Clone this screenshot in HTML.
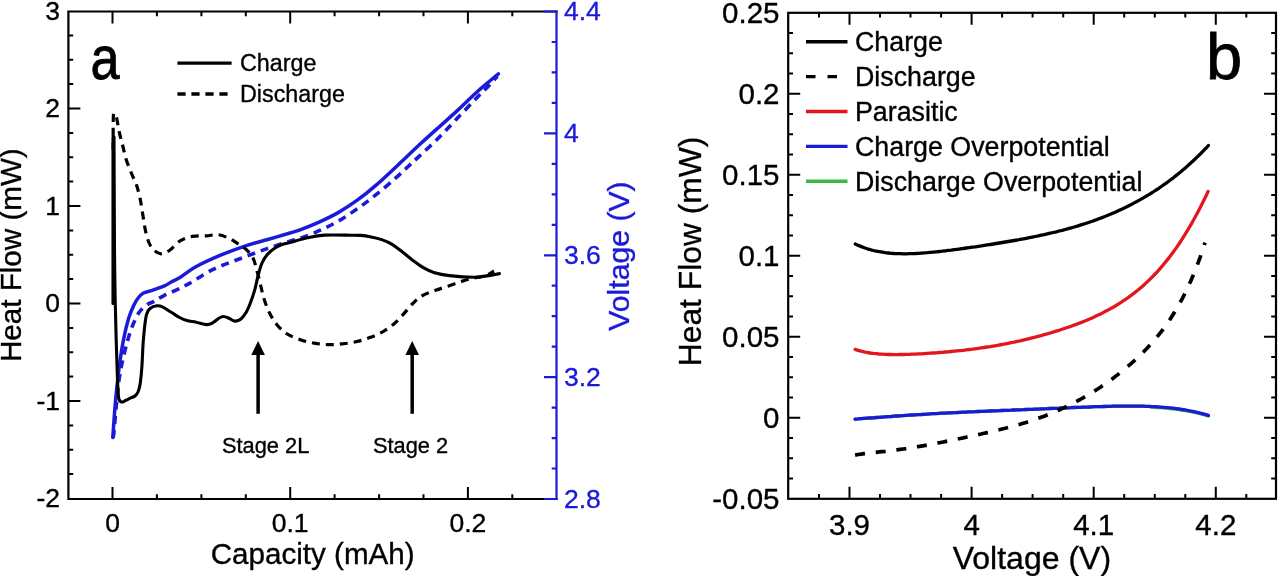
<!DOCTYPE html>
<html><head><meta charset="utf-8"><style>
html,body{margin:0;padding:0;background:#fff;}
body{width:1280px;height:576px;overflow:hidden;}
svg{display:block;filter:blur(0.45px);}
text{font-family:"Liberation Sans", sans-serif;stroke:#000;stroke-width:0.35px;}
</style></head><body>
<svg width="1280" height="576" viewBox="0 0 1280 576" font-family='"Liberation Sans", sans-serif'>
<rect width="1280" height="576" fill="#fff"/>
<g fill="none" stroke-linejoin="round" stroke-linecap="round">
<path d="M112.8,437.5 C113.2,432.2 114.3,415.3 115.1,405.8 C115.9,396.3 116.8,388.2 117.6,380.6 C118.4,373.1 119.0,367.6 120.1,360.5 C121.1,353.4 122.4,344.9 123.9,337.8 C125.4,330.7 127.2,323.1 128.9,317.6 C130.6,312.1 132.4,308.4 134.0,305.0 C135.6,301.6 136.9,299.5 138.5,297.5 C140.1,295.5 141.2,294.2 143.5,293.0 C145.8,291.8 148.6,291.5 152.2,290.3 C155.8,289.1 161.8,287.0 165.0,285.6 C168.2,284.2 168.7,283.4 171.2,282.0 C173.7,280.6 175.9,280.0 180.0,277.5 C184.1,275.0 188.8,270.6 195.8,266.8 C202.8,263.0 213.1,258.3 221.8,254.7 C230.5,251.1 240.1,247.6 247.8,245.1 C255.5,242.6 260.8,241.5 267.8,239.5 C274.8,237.5 284.6,234.6 290.0,233.0 C295.4,231.4 295.1,231.6 300.0,229.8 C304.9,228.0 312.7,225.0 319.1,222.1 C325.5,219.2 331.8,216.2 338.2,212.6 C344.6,208.9 350.9,204.8 357.3,200.2 C363.7,195.6 369.3,191.1 376.4,184.9 C383.5,178.7 392.9,169.8 400.0,163.1 C407.1,156.4 412.7,150.9 419.1,145.0 C425.5,139.1 431.8,133.5 438.2,127.8 C444.6,122.1 450.9,116.5 457.3,110.6 C463.7,104.7 471.0,97.4 476.4,92.5 C481.8,87.6 486.1,84.1 489.8,81.0 C493.5,77.9 497.0,75.0 498.4,73.8" stroke="#1a1ad8" stroke-width="3.5"/>
<path d="M112.8,437.5 C113.0,436.8 113.2,438.8 113.8,433.5 C114.4,428.2 115.4,414.6 116.3,405.8 C117.2,397.0 117.9,388.2 118.9,380.6 C120.0,373.1 121.1,367.2 122.6,360.5 C124.1,353.8 126.0,346.2 127.7,340.3 C129.4,334.4 130.8,329.8 132.7,325.2 C134.6,320.6 136.7,316.0 139.0,312.6 C141.3,309.2 144.1,306.9 146.6,305.0 C149.1,303.1 151.1,302.9 154.0,301.3 C156.9,299.7 160.2,297.5 164.0,295.6 C167.8,293.7 172.3,291.9 176.5,289.9 C180.7,287.9 182.9,287.0 189.0,283.6 C195.1,280.2 204.7,273.5 213.1,269.4 C221.5,265.3 230.5,262.3 239.2,259.0 C247.8,255.7 256.5,252.4 265.0,249.4 C273.5,246.4 284.2,242.9 290.0,241.1 C295.8,239.3 295.1,240.1 300.0,238.4 C304.9,236.7 312.7,233.6 319.1,230.7 C325.5,227.8 331.8,224.9 338.2,221.2 C344.6,217.5 350.9,213.2 357.3,208.8 C363.7,204.3 370.0,199.5 376.4,194.4 C382.8,189.3 390.3,182.8 395.5,178.2 C400.7,173.6 403.7,170.6 407.6,167.0 C411.5,163.4 414.0,161.2 419.1,156.4 C424.2,151.6 431.8,144.7 438.2,138.3 C444.6,131.9 450.9,124.9 457.3,118.2 C463.7,111.6 471.0,103.8 476.4,98.2 C481.8,92.6 486.3,88.5 489.8,84.8 C493.3,81.1 496.1,77.6 497.4,76.2" stroke="#1a1ad8" stroke-width="3.6" stroke-dasharray="8 6" stroke-linecap="butt"/>
<path d="M113.2,150.0 C113.2,145.8 113.1,131.1 113.2,125.0 C113.3,118.9 113.2,114.8 113.7,113.5 C114.2,112.2 115.6,114.5 116.5,117.4 C117.4,120.3 118.0,126.4 119.0,131.0 C120.0,135.6 121.4,140.3 122.6,145.0 C123.8,149.7 124.5,154.3 126.0,159.0 C127.5,163.7 129.6,168.7 131.3,173.0 C133.1,177.3 135.0,180.7 136.5,185.0 C138.0,189.3 139.1,194.2 140.2,199.1 C141.2,204.0 141.9,209.5 142.8,214.7 C143.7,219.9 144.4,225.7 145.4,230.3 C146.4,234.9 147.5,239.2 148.9,242.5 C150.3,245.8 152.1,248.4 154.1,250.3 C156.1,252.2 158.4,253.8 161.0,253.8 C163.6,253.8 166.5,252.5 169.7,250.3 C172.9,248.1 176.3,243.1 180.1,240.8 C183.9,238.5 188.0,237.2 192.3,236.4 C196.7,235.6 201.9,236.2 206.2,235.9 C210.5,235.6 214.5,234.3 218.3,234.7 C222.1,235.1 225.6,236.8 228.8,238.2 C232.0,239.6 234.5,241.5 237.4,243.4 C240.3,245.3 243.5,246.9 246.1,249.4 C248.7,251.9 251.2,254.6 253.0,258.1 C254.8,261.6 255.5,265.7 256.8,270.3 C258.1,274.9 259.5,280.8 260.7,285.6 C261.9,290.5 262.7,294.8 264.2,299.4 C265.7,304.0 267.6,309.1 269.7,313.3 C271.8,317.5 273.9,321.0 276.7,324.4 C279.5,327.8 282.5,330.9 286.4,333.5 C290.3,336.1 295.7,338.1 300.3,339.7 C304.9,341.3 309.6,342.4 314.2,343.2 C318.8,344.0 323.4,344.5 328.0,344.6 C332.6,344.7 337.3,344.4 341.9,343.9 C346.5,343.4 351.2,342.9 355.8,341.8 C360.4,340.8 365.3,339.2 369.7,337.6 C374.1,336.0 378.3,334.3 382.2,332.1 C386.1,329.9 389.8,327.3 393.3,324.4 C396.8,321.5 399.8,318.2 403.0,314.7 C406.2,311.2 409.7,306.6 412.8,303.5 C415.9,300.4 417.9,298.2 421.7,296.0 C425.5,293.8 430.5,292.2 435.6,290.3 C440.7,288.4 446.6,286.6 452.2,284.7 C457.8,282.8 463.3,280.7 468.9,279.2 C474.5,277.7 481.4,277.0 485.6,275.6 C489.8,274.2 492.6,271.8 494.0,271.0" stroke="#000" stroke-width="3.2" stroke-dasharray="8 6" stroke-linecap="butt"/>
<path d="M113.0,303.5 L113.0,137 L114.0,137.0 C114.1,155.8 114.3,222.8 114.5,250.0 C114.7,277.2 114.9,285.0 115.2,300.0 C115.5,315.0 115.8,327.3 116.2,340.0 C116.6,352.7 117.0,366.4 117.4,376.0 C117.8,385.6 117.9,393.2 118.6,397.5 C119.3,401.8 120.2,401.5 121.4,402.0 C122.6,402.5 124.5,400.9 126.0,400.3 C127.5,399.7 128.7,398.9 130.2,398.2 C131.7,397.5 133.7,397.1 135.0,396.0 C136.3,394.9 137.3,393.7 138.2,391.5 C139.1,389.3 139.7,387.4 140.3,383.0 C140.9,378.6 141.6,371.3 142.0,365.0 C142.4,358.7 142.6,351.5 143.0,345.0 C143.4,338.5 144.1,331.2 144.7,326.0 C145.3,320.8 145.8,316.9 146.7,314.0 C147.6,311.1 148.3,309.9 150.0,308.5 C151.7,307.1 154.5,306.0 156.7,305.8 C158.8,305.6 160.5,306.0 162.9,307.1 C165.3,308.2 168.4,310.6 171.2,312.3 C174.0,314.0 177.0,316.1 179.6,317.5 C182.2,318.9 184.1,319.8 186.9,320.6 C189.7,321.4 192.9,321.5 196.2,322.2 C199.5,322.9 203.9,324.5 206.7,324.6 C209.5,324.7 210.8,323.8 212.9,322.7 C215.0,321.6 217.5,319.0 219.2,318.0 C220.9,317.0 221.8,316.5 223.3,316.5 C224.9,316.5 226.6,317.2 228.5,318.0 C230.4,318.8 232.7,320.9 234.8,321.1 C236.9,321.3 239.1,320.5 241.0,319.0 C242.9,317.5 244.6,315.0 246.2,312.3 C247.8,309.6 249.0,306.5 250.4,302.9 C251.8,299.2 253.3,294.9 254.6,290.4 C255.9,285.9 256.8,280.6 258.0,276.0 C259.2,271.4 260.4,266.7 262.0,263.0 C263.6,259.3 265.6,256.5 267.8,254.0 C270.0,251.5 272.6,249.6 275.0,248.0 C277.4,246.4 279.5,245.4 282.0,244.5 C284.5,243.6 285.8,243.6 290.0,242.5 C294.2,241.4 301.6,238.9 307.4,237.7 C313.2,236.5 317.5,235.5 324.7,235.1 C331.9,234.7 344.4,235.1 350.4,235.2 C356.4,235.2 357.3,235.1 360.8,235.4 C364.3,235.7 367.7,236.3 371.2,237.0 C374.7,237.7 378.2,238.4 381.7,239.6 C385.2,240.8 388.6,242.2 392.1,244.3 C395.6,246.4 399.0,249.4 402.5,252.1 C406.0,254.8 409.4,257.8 412.9,260.4 C416.4,263.0 419.8,265.7 423.3,267.7 C426.8,269.7 429.4,271.1 433.7,272.4 C438.0,273.7 442.6,274.8 449.4,275.6 C456.2,276.4 467.9,277.2 474.4,277.2 C480.9,277.2 484.1,276.2 488.3,275.6 C492.5,275.0 497.5,273.9 499.4,273.6" stroke="#000" stroke-width="3.1"/>
</g>
<path d="M112.5,499.0v-12.0 M112.5,11.5v12.0 M156.9,499.0v-4.8 M156.9,11.5v4.8 M201.4,499.0v-4.8 M201.4,11.5v4.8 M245.8,499.0v-4.8 M245.8,11.5v4.8 M290.2,499.0v-12.0 M290.2,11.5v12.0 M334.6,499.0v-4.8 M334.6,11.5v4.8 M379.1,499.0v-4.8 M379.1,11.5v4.8 M423.5,499.0v-4.8 M423.5,11.5v4.8 M467.9,499.0v-12.0 M467.9,11.5v12.0 M512.3,499.0v-4.8 M512.3,11.5v4.8 M68.4,474.1h4.8 M68.4,449.8h4.8 M68.4,425.4h4.8 M68.4,401.0h12.0 M68.4,376.6h4.8 M68.4,352.2h4.8 M68.4,327.9h4.8 M68.4,303.5h12.0 M68.4,279.1h4.8 M68.4,254.8h4.8 M68.4,230.4h4.8 M68.4,206.0h12.0 M68.4,181.6h4.8 M68.4,157.2h4.8 M68.4,132.9h4.8 M68.4,108.5h12.0 M68.4,84.1h4.8 M68.4,59.8h4.8 M68.4,35.4h4.8" stroke="#000" stroke-width="2" fill="none"/>
<path d="M556.5,11.5 H68.4 M68.4,11.5 V499.0 M68.4,499.0 H556.5" stroke="#000" stroke-width="2.2" fill="none" stroke-linecap="square"/>
<path d="M556.5,499.0h-12.5 M556.5,468.5h-4.8 M556.5,438.1h-4.8 M556.5,407.6h-4.8 M556.5,377.1h-12.5 M556.5,346.7h-4.8 M556.5,316.2h-4.8 M556.5,285.7h-4.8 M556.5,255.3h-12.5 M556.5,224.8h-4.8 M556.5,194.3h-4.8 M556.5,163.8h-4.8 M556.5,133.4h-12.5 M556.5,102.9h-4.8 M556.5,72.4h-4.8 M556.5,42.0h-4.8 M556.5,11.5h-12.5 M556.5,10.5 V500.0" stroke="#1a1ad8" stroke-width="2.2" fill="none"/>
<text x="60" y="19.7" text-anchor="end" font-size="26.5">3</text>
<text x="60" y="117.2" text-anchor="end" font-size="26.5">2</text>
<text x="60" y="214.7" text-anchor="end" font-size="26.5">1</text>
<text x="60" y="312.2" text-anchor="end" font-size="26.5">0</text>
<text x="60" y="409.7" text-anchor="end" font-size="26.5">-1</text>
<text x="60" y="507.2" text-anchor="end" font-size="26.5">-2</text>
<text x="564" y="20.4" font-size="26.5" fill="#1a1ad8" style="stroke:#1a1ad8">4.4</text>
<text x="564" y="142.3" font-size="26.5" fill="#1a1ad8" style="stroke:#1a1ad8">4</text>
<text x="564" y="264.1" font-size="26.5" fill="#1a1ad8" style="stroke:#1a1ad8">3.6</text>
<text x="564" y="386.0" font-size="26.5" fill="#1a1ad8" style="stroke:#1a1ad8">3.2</text>
<text x="564" y="507.9" font-size="26.5" fill="#1a1ad8" style="stroke:#1a1ad8">2.8</text>
<text x="112.5" y="532" text-anchor="middle" font-size="26.5">0</text>
<text x="290.2" y="532" text-anchor="middle" font-size="26.5">0.1</text>
<text x="467.9" y="532" text-anchor="middle" font-size="26.5">0.2</text>
<text x="312.7" y="563.8" text-anchor="middle" font-size="29.6">Capacity (mAh)</text>
<text transform="translate(21,255.2) rotate(-90)" text-anchor="middle" font-size="29.6">Heat Flow (mW)</text>
<text transform="translate(628.5,256) rotate(-90)" text-anchor="middle" font-size="30.2" fill="#1a1ad8" style="stroke:#1a1ad8">Voltage (V)</text>
<path d="M177.4,63.1 H231.6" stroke="#000" stroke-width="3.2"/>
<path d="M177.4,94 H231.6" stroke="#000" stroke-width="3.4" stroke-dasharray="8.2 5.8"/>
<text x="240" y="71" font-size="23.3">Charge</text>
<text x="240" y="102" font-size="23.3">Discharge</text>
<text x="90.5" y="79" font-size="62" style="stroke-width:0.9px" transform="translate(90.5,0) scale(0.84,1) translate(-90.5,0)">a</text>
<path d="M258.1,413.8 V352" stroke="#000" stroke-width="3.5"/>
<path d="M258.1,340.9 L251.3,355 L264.9,355 Z" fill="#000"/>
<path d="M412.2,413.8 V352" stroke="#000" stroke-width="3.5"/>
<path d="M412.2,340.9 L405.4,355 L419.0,355 Z" fill="#000"/>
<text x="222" y="452.5" font-size="21.8">Stage 2L</text>
<text x="373" y="452.5" font-size="21.8">Stage 2</text>
<g fill="none" stroke-linejoin="round" stroke-linecap="round">
<path d="M855.1,419.1 L858.1,418.9 L861.1,418.6 L864.1,418.4 L867.1,418.2 L870.1,418.0 L873.1,417.8 L876.1,417.5 L879.1,417.3 L882.1,417.1 L885.1,416.9 L888.1,416.7 L891.1,416.5 L894.1,416.2 L897.1,416.0 L900.1,415.8 L903.1,415.6 L906.1,415.4 L909.1,415.2 L912.1,415.0 L915.1,414.8 L918.1,414.6 L921.1,414.5 L924.1,414.3 L927.1,414.1 L930.1,413.9 L933.1,413.7 L936.1,413.6 L939.1,413.4 L942.1,413.2 L945.1,413.1 L948.1,412.9 L951.1,412.8 L954.1,412.6 L957.1,412.5 L960.1,412.3 L963.1,412.2 L966.1,412.1 L969.1,411.9 L972.1,411.8 L975.1,411.7 L978.1,411.5 L981.1,411.4 L984.1,411.3 L987.1,411.1 L990.1,411.0 L993.1,410.9 L996.1,410.8 L999.1,410.7 L1002.1,410.5 L1005.1,410.4 L1008.1,410.3 L1011.1,410.2 L1014.1,410.0 L1017.1,409.9 L1020.1,409.8 L1023.1,409.7 L1026.1,409.5 L1029.1,409.4 L1032.1,409.3 L1035.1,409.2 L1038.1,409.1 L1041.1,408.9 L1044.1,408.8 L1047.1,408.7 L1050.1,408.5 L1053.1,408.4 L1056.1,408.3 L1059.1,408.2 L1062.1,408.0 L1065.1,407.9 L1068.1,407.8 L1071.1,407.7 L1074.1,407.5 L1077.1,407.4 L1080.1,407.3 L1083.1,407.2 L1086.1,407.1 L1089.1,407.0 L1092.1,406.8 L1095.1,406.7 L1098.1,406.6 L1101.1,406.6 L1104.1,406.5 L1107.1,406.4 L1110.1,406.3 L1113.1,406.2 L1116.1,406.2 L1119.1,406.1 L1122.1,406.1 L1125.1,406.1 L1128.1,406.1 L1131.1,406.1 L1134.1,406.1 L1137.1,406.1 L1140.1,406.2 L1143.1,406.2 L1146.1,406.3 L1149.1,406.4 L1152.1,407.2 L1155.1,407.3 L1158.1,407.5 L1161.1,407.7 L1164.1,407.9 L1167.1,408.2 L1170.1,408.5 L1173.1,408.8 L1176.1,409.2 L1179.1,409.6 L1182.1,410.1 L1185.1,410.5 L1188.1,411.1 L1191.1,411.7 L1194.1,412.3 L1197.1,413.0 L1200.1,413.7 L1203.1,414.5 L1206.1,415.3 L1208.4,416.0" stroke="#3cb846" stroke-width="3.3"/>
<path d="M855.1,419.1 L858.1,418.9 L861.1,418.6 L864.1,418.4 L867.1,418.2 L870.1,418.0 L873.1,417.8 L876.1,417.5 L879.1,417.3 L882.1,417.1 L885.1,416.9 L888.1,416.7 L891.1,416.5 L894.1,416.2 L897.1,416.0 L900.1,415.8 L903.1,415.6 L906.1,415.4 L909.1,415.2 L912.1,415.0 L915.1,414.8 L918.1,414.6 L921.1,414.5 L924.1,414.3 L927.1,414.1 L930.1,413.9 L933.1,413.7 L936.1,413.6 L939.1,413.4 L942.1,413.2 L945.1,413.1 L948.1,412.9 L951.1,412.8 L954.1,412.6 L957.1,412.5 L960.1,412.3 L963.1,412.2 L966.1,412.1 L969.1,411.9 L972.1,411.8 L975.1,411.7 L978.1,411.5 L981.1,411.4 L984.1,411.3 L987.1,411.1 L990.1,411.0 L993.1,410.9 L996.1,410.8 L999.1,410.7 L1002.1,410.5 L1005.1,410.4 L1008.1,410.3 L1011.1,410.2 L1014.1,410.0 L1017.1,409.9 L1020.1,409.8 L1023.1,409.7 L1026.1,409.5 L1029.1,409.4 L1032.1,409.3 L1035.1,409.2 L1038.1,409.1 L1041.1,408.9 L1044.1,408.8 L1047.1,408.7 L1050.1,408.5 L1053.1,408.4 L1056.1,408.3 L1059.1,408.2 L1062.1,408.0 L1065.1,407.9 L1068.1,407.8 L1071.1,407.7 L1074.1,407.5 L1077.1,407.4 L1080.1,407.3 L1083.1,407.2 L1086.1,407.1 L1089.1,407.0 L1092.1,406.8 L1095.1,406.7 L1098.1,406.6 L1101.1,406.6 L1104.1,406.5 L1107.1,406.4 L1110.1,406.3 L1113.1,406.2 L1116.1,406.2 L1119.1,406.1 L1122.1,406.1 L1125.1,406.1 L1128.1,406.1 L1131.1,406.1 L1134.1,406.1 L1137.1,406.1 L1140.1,406.2 L1143.1,406.2 L1146.1,406.3 L1149.1,406.4 L1152.1,406.6 L1155.1,406.7 L1158.1,406.9 L1161.1,407.1 L1164.1,407.3 L1167.1,407.6 L1170.1,407.9 L1173.1,408.2 L1176.1,408.6 L1179.1,409.0 L1182.1,409.5 L1185.1,409.9 L1188.1,410.5 L1191.1,411.1 L1194.1,411.7 L1197.1,412.4 L1200.1,413.1 L1203.1,413.9 L1206.1,414.7 L1208.4,415.4" stroke="#1a1ad8" stroke-width="3.3"/>
<path d="M855.1,455.1 L858.1,454.5 L861.1,454.1 L864.1,453.7 L867.1,453.3 L870.1,452.9 L873.1,452.6 L876.1,452.3 L879.1,451.9 L882.1,451.6 L885.1,451.3 L888.1,450.9 L891.1,450.6 L894.1,450.2 L897.1,449.8 L900.1,449.4 L903.1,449.0 L906.1,448.6 L909.1,448.1 L912.1,447.6 L915.1,447.1 L918.1,446.6 L921.1,446.1 L924.1,445.6 L927.1,445.1 L930.1,444.5 L933.1,443.9 L936.1,443.4 L939.1,442.8 L942.1,442.2 L945.1,441.6 L948.1,441.0 L951.1,440.4 L954.1,439.8 L957.1,439.1 L960.1,438.5 L963.1,437.9 L966.1,437.2 L969.1,436.6 L972.1,436.0 L975.1,435.3 L978.1,434.6 L981.1,434.0 L984.1,433.3 L987.1,432.6 L990.1,431.9 L993.1,431.2 L996.1,430.5 L999.1,429.8 L1002.1,429.0 L1005.1,428.3 L1008.1,427.5 L1011.1,426.7 L1014.1,425.9 L1017.1,425.0 L1020.1,424.2 L1023.1,423.3 L1026.1,422.4 L1029.1,421.4 L1032.1,420.4 L1035.1,419.4 L1038.1,418.4 L1041.1,417.3 L1044.1,416.2 L1047.1,415.0 L1050.1,413.8 L1053.1,412.6 L1056.1,411.3 L1059.1,410.0 L1062.1,408.6 L1065.1,407.2 L1068.1,405.8 L1071.1,404.3 L1074.1,402.7 L1077.1,401.1 L1080.1,399.5 L1083.1,397.8 L1086.1,396.1 L1089.1,394.3 L1092.1,392.5 L1095.1,390.6 L1098.1,388.7 L1101.1,386.7 L1104.1,384.6 L1107.1,382.5 L1110.1,380.4 L1113.1,378.2 L1116.1,375.9 L1119.1,373.6 L1122.1,371.2 L1125.1,368.7 L1128.1,366.2 L1131.1,363.6 L1134.1,360.9 L1137.1,358.1 L1140.1,355.2 L1143.1,352.3 L1146.1,349.2 L1149.1,346.0 L1152.1,342.7 L1155.1,339.2 L1158.1,335.6 L1161.1,331.8 L1164.1,327.8 L1167.1,323.7 L1170.1,319.3 L1173.1,314.6 L1176.1,309.7 L1179.1,304.5 L1182.1,299.0 L1185.1,293.1 L1188.1,286.9 L1191.1,280.2 L1194.1,273.1 L1197.1,265.5 L1200.1,257.3 L1203.1,248.5 L1205.0,242.7" stroke="#000" stroke-width="3.7" stroke-dasharray="10 10.8" stroke-linecap="butt"/>
<path d="M855.1,349.4 L858.1,350.3 L861.1,351.2 L864.1,351.9 L867.1,352.5 L870.1,353.0 L873.1,353.4 L876.1,353.7 L879.1,354.0 L882.1,354.2 L885.1,354.4 L888.1,354.5 L891.1,354.5 L894.1,354.6 L897.1,354.6 L900.1,354.5 L903.1,354.5 L906.1,354.4 L909.1,354.3 L912.1,354.2 L915.1,354.1 L918.1,353.9 L921.1,353.8 L924.1,353.6 L927.1,353.4 L930.1,353.2 L933.1,353.0 L936.1,352.8 L939.1,352.5 L942.1,352.3 L945.1,352.0 L948.1,351.8 L951.1,351.5 L954.1,351.2 L957.1,350.9 L960.1,350.6 L963.1,350.3 L966.1,349.9 L969.1,349.5 L972.1,349.2 L975.1,348.8 L978.1,348.4 L981.1,347.9 L984.1,347.5 L987.1,347.0 L990.1,346.6 L993.1,346.1 L996.1,345.6 L999.1,345.0 L1002.1,344.5 L1005.1,343.9 L1008.1,343.3 L1011.1,342.7 L1014.1,342.1 L1017.1,341.4 L1020.1,340.8 L1023.1,340.1 L1026.1,339.4 L1029.1,338.7 L1032.1,337.9 L1035.1,337.2 L1038.1,336.4 L1041.1,335.6 L1044.1,334.7 L1047.1,333.9 L1050.1,333.0 L1053.1,332.1 L1056.1,331.2 L1059.1,330.3 L1062.1,329.3 L1065.1,328.3 L1068.1,327.3 L1071.1,326.2 L1074.1,325.1 L1077.1,324.0 L1080.1,322.9 L1083.1,321.7 L1086.1,320.5 L1089.1,319.2 L1092.1,317.9 L1095.1,316.5 L1098.1,315.1 L1101.1,313.7 L1104.1,312.1 L1107.1,310.6 L1110.1,308.9 L1113.1,307.2 L1116.1,305.5 L1119.1,303.6 L1122.1,301.7 L1125.1,299.7 L1128.1,297.6 L1131.1,295.4 L1134.1,293.1 L1137.1,290.8 L1140.1,288.3 L1143.1,285.7 L1146.1,282.9 L1149.1,280.1 L1152.1,277.1 L1155.1,274.0 L1158.1,270.8 L1161.1,267.4 L1164.1,263.8 L1167.1,260.1 L1170.1,256.3 L1173.1,252.2 L1176.1,248.1 L1179.1,243.7 L1182.1,239.1 L1185.1,234.4 L1188.1,229.4 L1191.1,224.3 L1194.1,219.0 L1197.1,213.5 L1200.1,207.7 L1203.1,201.8 L1206.1,195.7 L1208.1,191.4" stroke="#e3161e" stroke-width="3.3"/>
<path d="M855.3,244.0 L858.3,245.4 L861.3,246.6 L864.3,247.8 L867.3,248.8 L870.3,249.7 L873.3,250.5 L876.3,251.2 L879.3,251.7 L882.3,252.2 L885.3,252.7 L888.3,253.0 L891.3,253.3 L894.3,253.5 L897.3,253.6 L900.3,253.7 L903.3,253.8 L906.3,253.8 L909.3,253.7 L912.3,253.6 L915.3,253.5 L918.3,253.3 L921.3,253.1 L924.3,252.9 L927.3,252.7 L930.3,252.4 L933.3,252.1 L936.3,251.8 L939.3,251.5 L942.3,251.2 L945.3,250.8 L948.3,250.4 L951.3,250.1 L954.3,249.7 L957.3,249.3 L960.3,248.9 L963.3,248.5 L966.3,248.0 L969.3,247.6 L972.3,247.2 L975.3,246.8 L978.3,246.3 L981.3,245.9 L984.3,245.4 L987.3,244.9 L990.3,244.5 L993.3,244.0 L996.3,243.5 L999.3,243.0 L1002.3,242.5 L1005.3,242.0 L1008.3,241.5 L1011.3,241.0 L1014.3,240.5 L1017.3,240.0 L1020.3,239.4 L1023.3,238.9 L1026.3,238.3 L1029.3,237.7 L1032.3,237.1 L1035.3,236.5 L1038.3,235.9 L1041.3,235.2 L1044.3,234.6 L1047.3,233.9 L1050.3,233.2 L1053.3,232.5 L1056.3,231.8 L1059.3,231.0 L1062.3,230.3 L1065.3,229.5 L1068.3,228.7 L1071.3,227.8 L1074.3,227.0 L1077.3,226.1 L1080.3,225.1 L1083.3,224.2 L1086.3,223.2 L1089.3,222.2 L1092.3,221.2 L1095.3,220.1 L1098.3,219.0 L1101.3,217.9 L1104.3,216.7 L1107.3,215.5 L1110.3,214.3 L1113.3,213.0 L1116.3,211.7 L1119.3,210.3 L1122.3,208.9 L1125.3,207.5 L1128.3,206.0 L1131.3,204.5 L1134.3,202.9 L1137.3,201.3 L1140.3,199.6 L1143.3,197.9 L1146.3,196.1 L1149.3,194.3 L1152.3,192.5 L1155.3,190.5 L1158.3,188.6 L1161.3,186.5 L1164.3,184.4 L1167.3,182.3 L1170.3,180.0 L1173.3,177.8 L1176.3,175.4 L1179.3,173.0 L1182.3,170.5 L1185.3,167.9 L1188.3,165.3 L1191.3,162.6 L1194.3,159.8 L1197.3,156.9 L1200.3,154.0 L1203.3,150.9 L1206.3,147.8 L1208.4,145.5" stroke="#000" stroke-width="3.3"/>
</g>
<path d="M819.0,498.8v-4.8 M819.0,12.8v4.8 M849.5,498.8v-12.0 M849.5,12.8v12.0 M880.0,498.8v-4.8 M880.0,12.8v4.8 M910.5,498.8v-4.8 M910.5,12.8v4.8 M941.1,498.8v-4.8 M941.1,12.8v4.8 M971.6,498.8v-12.0 M971.6,12.8v12.0 M1002.1,498.8v-4.8 M1002.1,12.8v4.8 M1032.6,498.8v-4.8 M1032.6,12.8v4.8 M1063.2,498.8v-4.8 M1063.2,12.8v4.8 M1093.7,498.8v-12.0 M1093.7,12.8v12.0 M1124.2,498.8v-4.8 M1124.2,12.8v4.8 M1154.8,498.8v-4.8 M1154.8,12.8v4.8 M1185.3,498.8v-4.8 M1185.3,12.8v4.8 M1215.8,498.8v-12.0 M1215.8,12.8v12.0 M1246.3,498.8v-4.8 M1246.3,12.8v4.8 M788.2,478.6h4.8 M1276.0,478.6h-4.8 M788.2,458.3h4.8 M1276.0,458.3h-4.8 M788.2,438.1h4.8 M1276.0,438.1h-4.8 M788.2,417.8h12.0 M1276.0,417.8h-12.0 M788.2,397.6h4.8 M1276.0,397.6h-4.8 M788.2,377.3h4.8 M1276.0,377.3h-4.8 M788.2,357.1h4.8 M1276.0,357.1h-4.8 M788.2,336.8h12.0 M1276.0,336.8h-12.0 M788.2,316.6h4.8 M1276.0,316.6h-4.8 M788.2,296.3h4.8 M1276.0,296.3h-4.8 M788.2,276.1h4.8 M1276.0,276.1h-4.8 M788.2,255.8h12.0 M1276.0,255.8h-12.0 M788.2,235.6h4.8 M1276.0,235.6h-4.8 M788.2,215.3h4.8 M1276.0,215.3h-4.8 M788.2,195.1h4.8 M1276.0,195.1h-4.8 M788.2,174.8h12.0 M1276.0,174.8h-12.0 M788.2,154.6h4.8 M1276.0,154.6h-4.8 M788.2,134.3h4.8 M1276.0,134.3h-4.8 M788.2,114.0h4.8 M1276.0,114.0h-4.8 M788.2,93.8h12.0 M1276.0,93.8h-12.0 M788.2,73.5h4.8 M1276.0,73.5h-4.8 M788.2,53.3h4.8 M1276.0,53.3h-4.8 M788.2,33.0h4.8 M1276.0,33.0h-4.8" stroke="#000" stroke-width="2" fill="none"/>
<rect x="788.2" y="12.8" width="487.8" height="486.0" stroke="#000" stroke-width="2.2" fill="none"/>
<text x="779.5" y="22.8" text-anchor="end" font-size="29.5">0.25</text>
<text x="779.5" y="103.8" text-anchor="end" font-size="29.5">0.2</text>
<text x="779.5" y="184.8" text-anchor="end" font-size="29.5">0.15</text>
<text x="779.5" y="265.8" text-anchor="end" font-size="29.5">0.1</text>
<text x="779.5" y="346.8" text-anchor="end" font-size="29.5">0.05</text>
<text x="779.5" y="427.8" text-anchor="end" font-size="29.5">0</text>
<text x="779.5" y="508.8" text-anchor="end" font-size="29.5">-0.05</text>
<text x="849.5" y="535" text-anchor="middle" font-size="29.5">3.9</text>
<text x="971.6" y="535" text-anchor="middle" font-size="29.5">4</text>
<text x="1093.7" y="535" text-anchor="middle" font-size="29.5">4.1</text>
<text x="1215.8" y="535" text-anchor="middle" font-size="29.5">4.2</text>
<text x="1031.9" y="569" text-anchor="middle" font-size="32">Voltage (V)</text>
<text transform="translate(701,251.4) rotate(-90)" text-anchor="middle" font-size="31.8">Heat Flow (mW)</text>
<path d="M806,41.7 H847.5" stroke="#000" stroke-width="3.4"/>
<text x="855" y="51.3" font-size="26.8">Charge</text>
<path d="M806,76.6 H847.5" stroke="#000" stroke-width="3.4" stroke-dasharray="9.5 12"/>
<text x="855" y="86.2" font-size="26.8">Discharge</text>
<path d="M806,111.5 H847.5" stroke="#e3161e" stroke-width="3.4"/>
<text x="855" y="121.1" font-size="26.8">Parasitic</text>
<path d="M806,146.4 H847.5" stroke="#1a1ad8" stroke-width="3.4"/>
<text x="855" y="156.0" font-size="26.8">Charge Overpotential</text>
<path d="M806,181.3 H847.5" stroke="#3cb846" stroke-width="3.4"/>
<text x="855" y="190.9" font-size="26.8">Discharge Overpotential</text>
<text x="1206" y="79" font-size="65" style="stroke-width:0.8px">b</text>
</svg>
</body></html>
